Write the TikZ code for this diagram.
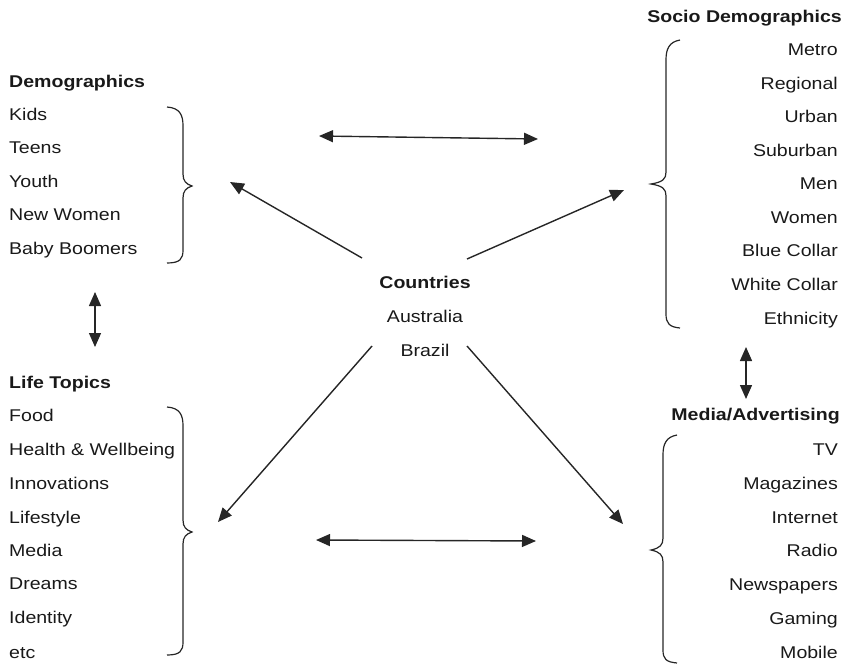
\documentclass[tikz,border=0pt]{standalone}
\usepackage{fontspec}
\setmainfont{Liberation Sans}[FakeStretch=1.15]
\usetikzlibrary{arrows.meta}

\begin{document}
\begin{tikzpicture}[x=1pt,y=-1pt,
  txt/.style={inner sep=0pt, text=black!90, font=\fontsize{17}{20}\selectfont},
  head/.style={txt, font=\fontsize{17}{20}\selectfont\bfseries},
  lft/.style={anchor=mid west, yshift=-3pt},
  rgt/.style={anchor=mid east, yshift=-3pt},
  ctr/.style={anchor=mid, yshift=-3pt},
  tip/.tip={Triangle[length=14pt,width=12pt]},
  conn/.style={draw=black!85, line width=1.4pt, -tip},
  twoway/.style={draw=black!85, line width=1.4pt, tip-tip},
  bracket/.style={draw=black!85, line width=1.2pt}
]
\useasboundingbox (0,0) rectangle (845,666);

% ---- Demographics (top left)
\node[head,lft] (demo) at (9,82) {Demographics};
\node[txt,lft] (d1) at (9,115) {Kids};
\node[txt,lft] (d2) at (9,148) {Teens};
\node[txt,lft] (d3) at (9,182) {Youth};
\node[txt,lft] (d4) at (9,215) {New Women};
\node[txt,lft] (d5) at (9,249) {Baby Boomers};
\draw[bracket] (167,107) .. controls (180,108) and (183,115) .. (183,126)
  -- (183,174) .. controls (183,181) and (186,184) .. (192,186)
  .. controls (186,188) and (183,191) .. (183,198)
  -- (183,250) .. controls (183,259) and (180,263) .. (167,263);

% ---- Life Topics (bottom left)
\node[head,lft] (life) at (9,383) {Life Topics};
\node[txt,lft] (l1) at (9,416) {Food};
\node[txt,lft] (l2) at (9,450) {Health \& Wellbeing};
\node[txt,lft] (l3) at (9,484) {Innovations};
\node[txt,lft] (l4) at (9,518) {Lifestyle};
\node[txt,lft] (l5) at (9,551) {Media};
\node[txt,lft] (l6) at (9,584) {Dreams};
\node[txt,lft] (l7) at (9,618) {Identity};
\node[txt,lft] (l8) at (9,653) {etc};
\draw[bracket] (167,407) .. controls (180,408) and (183,415) .. (183,426)
  -- (183,520) .. controls (183,527) and (186,530) .. (192,532)
  .. controls (186,534) and (183,537) .. (183,544)
  -- (183,642) .. controls (183,651) and (180,655) .. (167,655);

% ---- Socio Demographics (top right)
\node[head,rgt] (socio) at (842,17) {Socio Demographics};
\node[txt,rgt] (s1) at (838,50) {Metro};
\node[txt,rgt] (s2) at (838,84) {Regional};
\node[txt,rgt] (s3) at (838,117) {Urban};
\node[txt,rgt] (s4) at (838,151) {Suburban};
\node[txt,rgt] (s5) at (838,184) {Men};
\node[txt,rgt] (s6) at (838,218) {Women};
\node[txt,rgt] (s7) at (838,251) {Blue Collar};
\node[txt,rgt] (s8) at (838,285) {White Collar};
\node[txt,rgt] (s9) at (838,319) {Ethnicity};
\draw[bracket] (680,40) .. controls (669,42) and (666,49) .. (666,60)
  -- (666,172) .. controls (666,179) and (663,182) .. (651,184)
  .. controls (663,186) and (666,189) .. (666,196)
  -- (666,314) .. controls (666,323) and (669,327) .. (680,328);

% ---- Media/Advertising (bottom right)
\node[head,rgt] (media) at (840,415) {Media/Advertising};
\node[txt,rgt] (m1) at (838,450) {TV};
\node[txt,rgt] (m2) at (838,484) {Magazines};
\node[txt,rgt] (m3) at (838,518) {Internet};
\node[txt,rgt] (m4) at (838,551) {Radio};
\node[txt,rgt] (m5) at (838,585) {Newspapers};
\node[txt,rgt] (m6) at (838,619) {Gaming};
\node[txt,rgt] (m7) at (838,653) {Mobile};
\draw[bracket] (677,435) .. controls (666,437) and (663,444) .. (663,455)
  -- (663,538) .. controls (663,545) and (660,548) .. (651,550)
  .. controls (660,552) and (663,555) .. (663,562)
  -- (663,650) .. controls (663,659) and (666,662) .. (677,663);

% ---- Countries (centre)
\node[head,ctr] (ctry) at (425,283) {Countries};
\node[txt,ctr] (aus) at (425,317) {Australia};
\node[txt,ctr] (bra) at (425,351) {Brazil};

% ---- arrow end points
\coordinate (ulS) at (362,258);  \coordinate (ulE) at (230,182);
\coordinate (urS) at (467,259);  \coordinate (urE) at (624,190);
\coordinate (llS) at (372,346);  \coordinate (llE) at (218,522);
\coordinate (lrS) at (467,346);  \coordinate (lrE) at (623,524);
\coordinate (topL) at (319,136); \coordinate (topR) at (538,139);
\coordinate (botL) at (316,540); \coordinate (botR) at (536,541);
\coordinate (lvT) at (95,292);   \coordinate (lvB) at (95,347);
\coordinate (rvT) at (746,347);  \coordinate (rvB) at (746,399);

% ---- connectors
\draw[conn] (ulS) -- (ulE);
\draw[conn] (urS) -- (urE);
\draw[conn] (llS) -- (llE);
\draw[conn] (lrS) -- (lrE);
\draw[twoway] (topL) -- (topR);
\draw[twoway] (botL) -- (botR);
\draw[twoway] (lvT) -- (lvB);
\draw[twoway] (rvT) -- (rvB);
\end{tikzpicture}
\end{document}
